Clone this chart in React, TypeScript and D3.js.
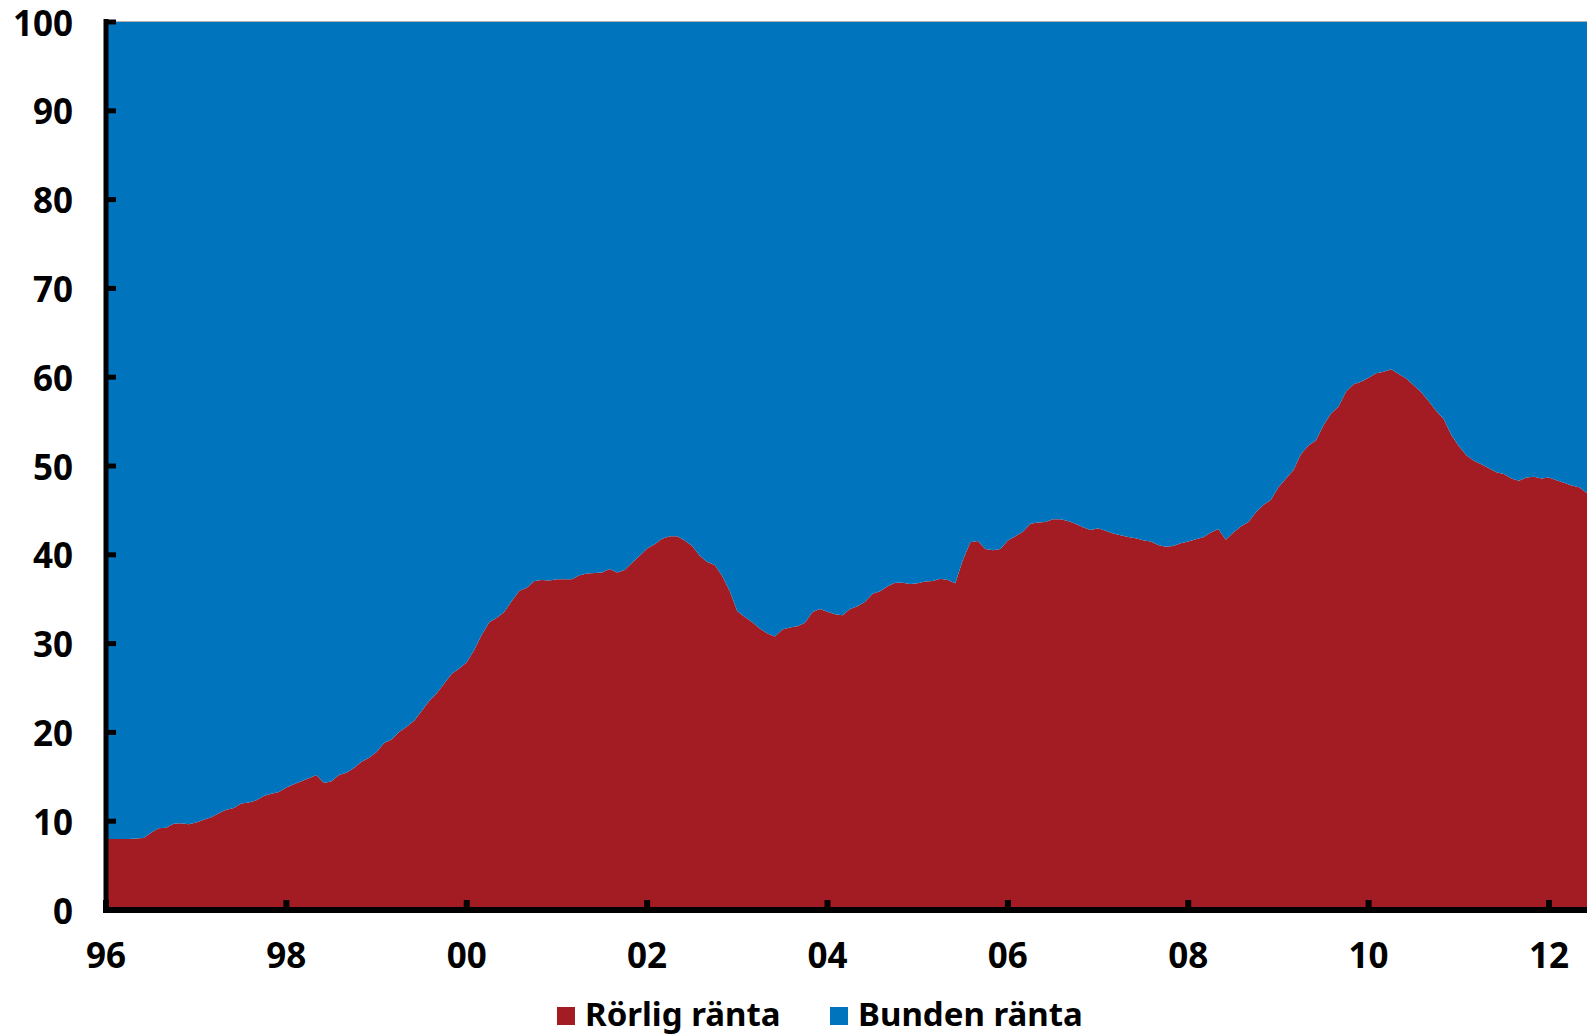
import React from "react";
import * as d3 from "d3";

// Monthly share (%) of variable-rate mortgages, Jan 1996 onward
const rorlig: number[] = [
  // 1996
  8.0, 8.0, 8.0, 8.0, 8.05, 8.1, 8.7, 9.2, 9.25, 9.7, 9.76, 9.65,
  // 1997
  9.85, 10.15, 10.45, 10.9, 11.3, 11.5, 12.0, 12.1, 12.35, 12.85, 13.1, 13.3,
  // 1998
  13.8, 14.15, 14.5, 14.85, 15.2, 14.3, 14.5, 15.2, 15.45, 16.0, 16.7, 17.15,
  // 1999
  17.8, 18.8, 19.2, 20.05, 20.65, 21.3, 22.4, 23.55, 24.4, 25.5, 26.6, 27.2,
  // 2000
  27.9, 29.3, 31.0, 32.4, 32.9, 33.6, 34.8, 35.95, 36.3, 37.05, 37.15, 37.1,
  // 2001
  37.25, 37.25, 37.25, 37.7, 37.9, 37.95, 38.0, 38.4, 38.0, 38.3, 39.1, 39.9,
  // 2002
  40.7, 41.2, 41.8, 42.1, 42.1, 41.6, 41.0, 39.9, 39.2, 38.85, 37.6, 35.9,
  // 2003
  33.65, 33.0, 32.4, 31.7, 31.15, 30.8, 31.6, 31.8, 31.95, 32.35, 33.55, 33.9,
  // 2004
  33.6, 33.3, 33.2, 33.9, 34.2, 34.7, 35.6, 35.9, 36.45, 36.85, 36.85, 36.7,
  // 2005
  36.8, 37.0, 37.05, 37.3, 37.15, 36.8, 39.4, 41.4, 41.55, 40.65, 40.5, 40.65,
  // 2006
  41.6, 42.1, 42.6, 43.5, 43.65, 43.7, 44.0, 44.0, 43.8, 43.5, 43.1, 42.8,
  // 2007
  43.0, 42.7, 42.4, 42.2, 42.0, 41.85, 41.65, 41.5, 41.1, 40.9, 41.0, 41.3,
  // 2008
  41.5, 41.75, 41.97, 42.5, 42.9, 41.7, 42.5, 43.2, 43.7, 44.8, 45.6, 46.2,
  // 2009
  47.6, 48.6, 49.55, 51.35, 52.3, 52.9, 54.6, 55.9, 56.7, 58.4, 59.2, 59.5,
  // 2010
  59.95, 60.45, 60.6, 60.9, 60.35, 59.85, 59.1, 58.3, 57.3, 56.2, 55.3, 53.5,
  // 2011
  52.25, 51.2, 50.6, 50.2, 49.75, 49.3, 49.1, 48.6, 48.35, 48.7, 48.8, 48.6,
  // 2012
  48.7, 48.4, 48.1, 47.8, 47.6, 47.0, 46.5,
];

const startYear = 1996;
const seriesNames = ["Rörlig ränta", "Bunden ränta"];
const seriesColors = ["#A31C23", "#0075BE"];
const yTicks = [0, 10, 20, 30, 40, 50, 60, 70, 80, 90, 100];
const xTickYears = [1996, 1998, 2000, 2002, 2004, 2006, 2008, 2010, 2012];
const xTickLabels = ["96", "98", "00", "02", "04", "06", "08", "10", "12"];

const W = 1587;
const H = 1035;
const FONT = "'Noto Sans', 'DejaVu Sans', sans-serif";

export default function App() {
  const rows = rorlig.map((v, i) => ({
    t: startYear + i / 12,
    rorlig: v,
    bunden: +(100 - v).toFixed(2),
  }));

  const x = d3.scaleLinear().domain([1996, 2012]).range([106, 1549]);
  const y = d3.scaleLinear().domain([0, 100]).range([910, 22]);

  const stack = d3.stack<any>().keys(["rorlig", "bunden"]);
  const stacked = stack(rows as any);

  const area = d3
    .area<any>()
    .x((d) => x(d.data.t))
    .y0((d) => y(d[0]))
    .y1((d) => y(d[1]))
    .curve(d3.curveLinear);

  const left = x(1996);
  const bottom = y(0);

  return (
    <svg
      width={W}
      height={H}
      style={{ position: "absolute", left: 0, top: 0, background: "#fff" }}
      fontFamily={FONT}
    >
      <defs>
        <clipPath id="plotClip">
          <rect x={left} y={y(100)} width={W - left} height={bottom - y(100)} />
        </clipPath>
      </defs>
      <g clipPath="url(#plotClip)">
        {stacked.map((s, i) => (
          <path key={s.key} d={area(s as any) || ""} fill={seriesColors[i]} />
        ))}
      </g>
      {/* faint top frame */}
      <line x1={left} x2={W} y1={y(100) - 0.5} y2={y(100) - 0.5} stroke="#b0b0b0" strokeWidth={1} />

      {/* Y axis */}
      <line x1={left} x2={left} y1={y(100) - 3} y2={bottom + 3} stroke="#000" strokeWidth={5} />
      {yTicks.map((t) => (
        <g key={t}>
          <line x1={left} x2={left + 10} y1={y(t)} y2={y(t)} stroke="#000" strokeWidth={5} />
          <text
            x={73}
            y={y(t)}
            textAnchor="end"
            dominantBaseline="central"
            fontSize={35}
            fontWeight="bold"
            fill="#000"
          >
            {t}
          </text>
        </g>
      ))}

      {/* X axis */}
      <line x1={left - 3} x2={W} y1={bottom} y2={bottom} stroke="#000" strokeWidth={6} />
      {xTickYears.map((yr, i) => (
        <g key={yr}>
          <line x1={x(yr)} x2={x(yr)} y1={bottom - 10} y2={bottom} stroke="#000" strokeWidth={6} />
          <text
            x={x(yr)}
            y={968}
            textAnchor="middle"
            fontSize={35}
            fontWeight="bold"
            fill="#000"
          >
            {xTickLabels[i]}
          </text>
        </g>
      ))}

      {/* Legend */}
      {seriesNames.map((name, i) => {
        const lx = i === 0 ? 557 : 830;
        return (
          <g key={name}>
            <rect x={lx} y={1007} width={18} height={18} fill={seriesColors[i]} />
            <text x={lx + 28} y={1026} fontSize={33} fontWeight="bold" fill="#000">
              {name}
            </text>
          </g>
        );
      })}
    </svg>
  );
}
